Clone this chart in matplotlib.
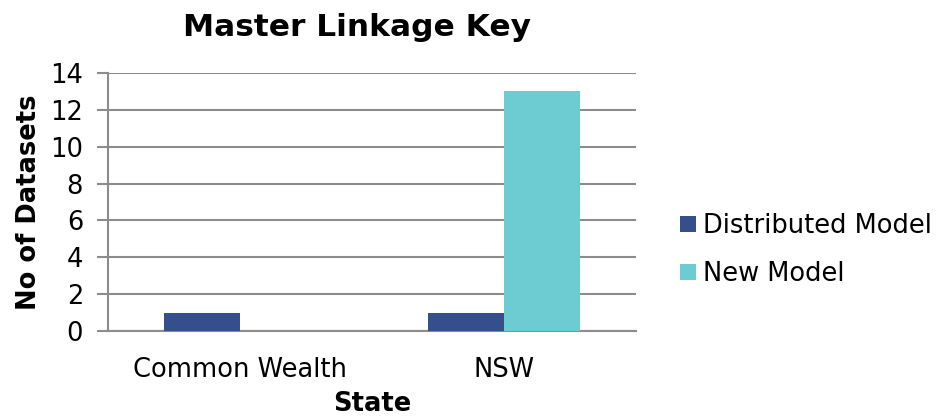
import matplotlib
matplotlib.use("Agg")
import matplotlib.pyplot as plt
import numpy as np

categories = ["Common Wealth", "NSW"]
series_names = ["Distributed Model", "New Model"]
distributed = [1, 1]
new_model = [0, 13]
yticks = [0, 2, 4, 6, 8, 10, 12, 14]

colors = ["#354E8C", "#6DCBD2"]

plt.rcParams['font.family'] = ['DejaVu Sans']
fig = plt.figure(figsize=(9.38, 4.18), dpi=100)
ax = fig.add_axes([108/938, 1-331/418, (636-108)/938, (331-73)/418])

x = np.arange(len(categories))
w = 0.286
ax.bar(x - w/2, distributed, w, color=colors[0], label=series_names[0], zorder=3)
ax.bar(x + w/2, new_model, w, color=colors[1], label=series_names[1], zorder=3)

ax.set_xlim(-0.5, 1.5)
ax.set_ylim(0, 14)
ax.set_yticks(yticks)
ax.set_xticks(x)
ax.set_xticklabels(categories, fontsize=18.5)
ax.tick_params(axis='y', labelsize=18.5, length=8, width=1.5, color="#8C8C8C", pad=10)
ax.tick_params(axis='x', length=0, pad=19)
ax.yaxis.grid(True, color="#8C8C8C", linewidth=1.5, zorder=0)
ax.set_axisbelow(True)
for s in ["top", "right"]:
    ax.spines[s].set_visible(False)
ax.spines["left"].set_color("#8C8C8C")
ax.spines["left"].set_linewidth(1.5)
ax.spines["bottom"].set_color("#8C8C8C")
ax.spines["bottom"].set_linewidth(1.5)

ax.set_ylabel("No of Datasets", fontsize=18.5, fontweight="bold")
ax.yaxis.set_label_coords((42-108)/528, 0.5)
ax.set_xlabel("State", fontsize=18.5, fontweight="bold")
ax.xaxis.set_label_coords(0.5, -(391-331)/258)
fig.text(357/938, 1-28/418, "Master Linkage Key", fontsize=22.5, fontweight="bold",
         ha="center", va="center")

leg = fig.legend(loc="upper left", bbox_to_anchor=(657/938, 1-190/418), frameon=False,
                 fontsize=18.5, handlelength=0.6, handleheight=0.6, handletextpad=0.3,
                 labelspacing=0.85)

fig.savefig("out.png", dpi=100)
